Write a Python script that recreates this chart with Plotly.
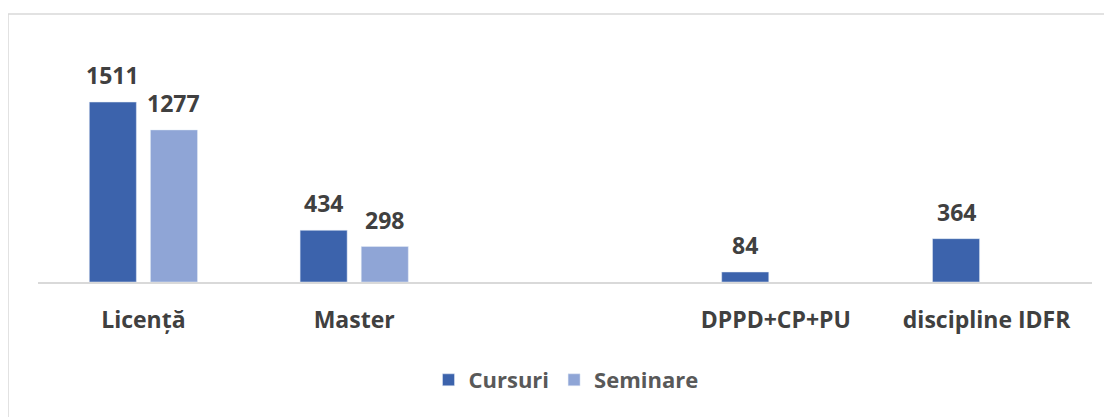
import plotly.graph_objects as go

categories = ["Licență", "Master", " ", "DPPD+CP+PU", "discipline IDFR"]
cursuri = [1511, 434, None, 84, 364]
seminare = [1277, 298, None, None, None]

W, H = 1112, 417
ml, mr, mt, mb = 30, 28, 32, 143
plot_w = W - ml - mr
plot_h = H - mt - mb
font_family = "'Open Sans', sans-serif"
txt_color = "#404040"

fig = go.Figure()
fig.add_trace(go.Bar(name="Cursuri", x=categories, y=cursuri,
                     marker=dict(color="#3C63AC")))
fig.add_trace(go.Bar(name="Seminare", x=categories, y=seminare,
                     marker=dict(color="#8FA5D6")))

# value labels above bars
annotations = []
for series, xs in ((cursuri, -30.5), (seminare, 30.5)):
    for cat, v in zip(categories, series):
        if v is None:
            continue
        annotations.append(dict(
            x=cat, y=v, xref="x", yref="y", text=str(v), showarrow=False,
            xanchor="center", yanchor="bottom", xshift=xs, yshift=9,
            font=dict(family=font_family, size=23, color=txt_color, weight="bold"),
        ))

fig.update_layout(
    width=W, height=H,
    margin=dict(l=ml, r=mr, t=mt, b=mb, autoexpand=False),
    barmode="group", bargap=0.42, bargroupgap=0.23,
    paper_bgcolor="white", plot_bgcolor="white",
    font=dict(family=font_family, color=txt_color),
    showlegend=True,
    legend=dict(
        orientation="h", x=(558 - ml) / plot_w, xanchor="center",
        y=-98 / plot_h, yanchor="middle",
        font=dict(family=font_family, size=22, color="#595959", weight="bold"),
        itemwidth=30, traceorder="normal",
    ),
    xaxis=dict(
        type="category", categoryorder="array", categoryarray=categories,
        showline=True, linecolor="#D9D9D9", linewidth=1.5,
        showgrid=False, ticks="", ticklabelstandoff=17,
        tickfont=dict(family=font_family, size=23, color="#404040", weight="bold"),
    ),
    yaxis=dict(range=[0, plot_h / 0.1191], visible=False, showgrid=False),
    annotations=annotations,
    shapes=[dict(
        type="rect", xref="paper", yref="paper",
        x0=(0 - ml) / plot_w, x1=1.2,
        y0=-1.0, y1=1 + (mt - 6) / plot_h,
        line=dict(color="#D9D9D9", width=1.5), layer="below",
    )],
)

fig.write_html("out.html")
